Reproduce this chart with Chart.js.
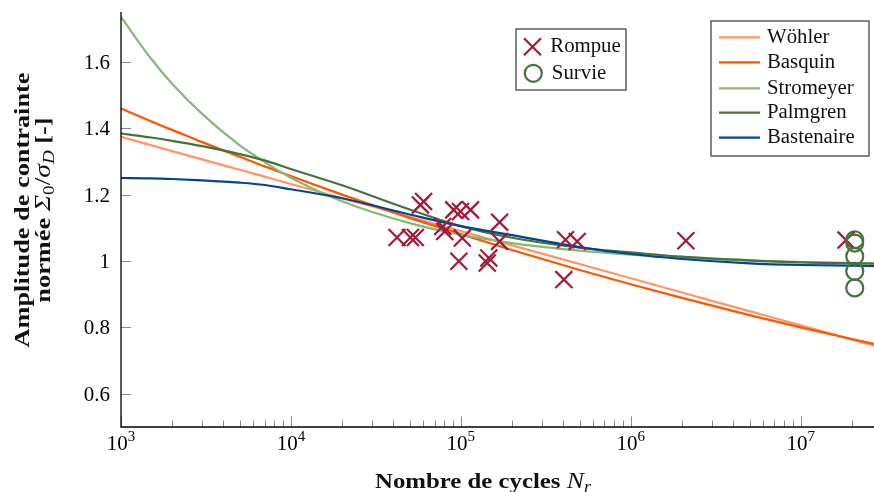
<!DOCTYPE html>
<html>
<head>
<meta charset="utf-8">
<script src="https://cdn.jsdelivr.net/npm/chart.js@4.4.1/dist/chart.umd.min.js"></script>
<style>
  html, body { margin: 0; padding: 0; background: #fff; }
  #wrap { width: 874px; height: 492px; }
</style>
</head>
<body>
<div id="wrap"><canvas id="chart" width="874" height="492"></canvas></div>
<script>
// values
const cycleGrid  = [1e3, 1.5e3, 2e3, 3e3, 5e3, 7e3, 1e4, 2e4, 5e4, 1e5, 2e5, 5e5, 1e6, 2e6, 5e6, 1e7, 2.7e7];
const woehler    = [1.374, 1.349, 1.331, 1.306, 1.275, 1.254, 1.232, 1.189, 1.133, 1.090, 1.047, 0.991, 0.948, 0.905, 0.849, 0.806, 0.745];
const basquin    = [1.459, 1.421, 1.395, 1.358, 1.314, 1.285, 1.256, 1.200, 1.130, 1.081, 1.033, 0.973, 0.930, 0.889, 0.837, 0.800, 0.750];
const stromeyer  = [1.735, 1.610, 1.534, 1.443, 1.348, 1.298, 1.251, 1.180, 1.114, 1.079, 1.054, 1.031, 1.019, 1.010, 1.001, 0.997, 0.993];
const palmgren   = [1.384, 1.372, 1.362, 1.346, 1.322, 1.303, 1.277, 1.228, 1.155, 1.105, 1.070, 1.040, 1.026, 1.013, 1.002, 0.996, 0.992];
const bastenaire = [1.250, 1.249, 1.247, 1.243, 1.236, 1.229, 1.216, 1.189, 1.140, 1.105, 1.078, 1.042, 1.021, 1.006, 0.993, 0.988, 0.985];

const rompueN   = [4.21e4, 5.05e4, 5.40e4, 5.78e4, 6.04e4, 7.82e4, 8.04e4, 9.08e4, 9.95e4, 1.14e5, 1.02e5,
                   9.73e4, 1.46e5, 1.43e5, 1.69e5, 1.69e5, 4.13e5, 4.84e5, 4.04e5, 2.11e6, 1.85e7];
const rompueAmp = [1.071, 1.071, 1.071, 1.169, 1.179, 1.104, 1.089, 1.154, 1.149, 1.154, 1.069,
                   0.999, 1.009, 0.994, 1.117, 1.059, 1.064, 1.059, 0.944, 1.061, 1.063];
const survieN   = [2.08e7, 2.08e7, 2.08e7, 2.08e7, 2.08e7];
const survieAmp = [1.064, 1.054, 1.014, 0.969, 0.919];

const yTickValues = [0.6, 0.8, 1, 1.2, 1.4, 1.6];
const yTickLabels = ['0.6', '0.8', '1', '1.2', '1.4', '1.6'];
const xDecades    = [3, 4, 5, 6, 7];

const colors = {
    woehler: 'rgb(255,150,100)',
    basquin: 'rgb(255,85,0)',
    stromeyer: 'rgb(134,184,118)',
    palmgren: 'rgb(72,112,60)',
    bastenaire: 'rgb(0,68,150)',
    rompue: 'rgb(163,25,55)',
    survie: 'rgb(72,112,60)'
};

const SERIF = '"Liberation Serif", "DejaVu Serif", serif';

const toXY = (xs, ys) => xs.map((x, i) => ({ x: x, y: ys[i] }));

function curve(label, ys, color) {
    return {
        type: 'line',
        label: label,
        data: toXY(cycleGrid, ys),
        borderColor: color,
        borderWidth: 2.2,
        pointRadius: 0,
        fill: false,
        cubicInterpolationMode: 'monotone'
    };
}

// text made of pieces with their own font / vertical shift, optionally stretched in x
function richWidth(ctx, segs) {
    let w = 0;
    segs.forEach(s => { ctx.font = s.font; w += ctx.measureText(s.t).width; });
    return w;
}
function drawRich(ctx, segs, cx, baseline, stretch) {
    const w = richWidth(ctx, segs);
    ctx.save();
    ctx.translate(cx - w * stretch / 2, baseline);
    ctx.scale(stretch, 1);
    let pos = 0;
    segs.forEach(s => {
        ctx.font = s.font;
        ctx.fillText(s.t, pos, s.dy || 0);
        pos += ctx.measureText(s.t).width;
    });
    ctx.restore();
}

const pgfLook = {
    id: 'pgfLook',
    afterDraw(chart) {
        const ctx = chart.ctx;
        const xs = chart.scales.x, ys = chart.scales.y;
        const area = chart.chartArea;
        ctx.save();
        ctx.fillStyle = '#000';
        ctx.textBaseline = 'alphabetic';
        ctx.textAlign = 'left';

        // ticks (inward)
        ctx.strokeStyle = '#8a8a8a';
        ctx.lineWidth = 1;
        ctx.beginPath();
        yTickValues.forEach(v => {
            const py = Math.round(ys.getPixelForValue(v)) + 0.5;
            ctx.moveTo(area.left, py);
            ctx.lineTo(area.left + 10, py);
        });
        xDecades.forEach(k => {
            for (let m = 1; m <= 9; m++) {
                const v = m * Math.pow(10, k);
                if (v > xs.max) break;
                const px = Math.round(xs.getPixelForValue(v)) + 0.5;
                ctx.moveTo(px, area.bottom);
                ctx.lineTo(px, area.bottom - (m === 1 ? 10.5 : 6.5));
            }
        });
        ctx.stroke();

        // axis lines
        ctx.strokeStyle = '#000';
        ctx.lineWidth = 1.3;
        ctx.beginPath();
        ctx.moveTo(area.left, area.top);
        ctx.lineTo(area.left, area.bottom);
        ctx.lineTo(area.right, area.bottom);
        ctx.stroke();

        // y tick labels
        ctx.font = '21px ' + SERIF;
        ctx.textAlign = 'right';
        yTickValues.forEach((v, i) => {
            ctx.fillText(yTickLabels[i], 110, ys.getPixelForValue(v) + 7);
        });

        // x tick labels 10^k
        ctx.textAlign = 'left';
        xDecades.forEach(k => {
            const px = xs.getPixelForValue(Math.pow(10, k));
            drawRich(ctx, [
                { t: '10', font: '21px ' + SERIF },
                { t: String(k), font: '15px ' + SERIF, dy: -9 }
            ], px, 449.5, 1);
        });

        // axis titles
        const bold = 'bold 22px ' + SERIF;
        const ital = 'italic 23px ' + SERIF;
        const sub = 'italic 16px ' + SERIF;
        const subUp = '16px ' + SERIF;
        const xTitle = [
            { t: 'Nombre de cycles ', font: bold },
            { t: 'N', font: ital },
            { t: 'r', font: sub, dy: 4 }
        ];
        ctx.fillStyle = '#111';
        drawRich(ctx, xTitle, 483, 488, 216 / richWidth(ctx, xTitle));

        const yLine1 = [{ t: 'Amplitude de contrainte', font: bold }];
        const yLine2 = [
            { t: 'normée ', font: bold },
            { t: 'Σ', font: ital },
            { t: '0', font: subUp, dy: 4 },
            { t: '/', font: '23px ' + SERIF },
            { t: 'σ', font: ital },
            { t: 'D', font: sub, dy: 4 },
            { t: ' [-]', font: bold }
        ];
        const yStretch = 275 / richWidth(ctx, yLine1);
        ctx.save();
        ctx.translate(0, 210);
        ctx.rotate(-Math.PI / 2);
        drawRich(ctx, yLine1, 0, 29, yStretch);
        drawRich(ctx, yLine2, 0, 50, yStretch);
        ctx.restore();

        // legends
        const legFont = '20px ' + SERIF;
        ctx.fillStyle = '#fff';
        ctx.strokeStyle = '#444';
        ctx.lineWidth = 1.3;
        ctx.fillRect(516, 29, 110, 61);
        ctx.strokeRect(516, 29, 110, 61);
        ctx.fillRect(711, 21, 158, 135);
        ctx.strokeRect(711, 21, 158, 135);

        ctx.fillStyle = '#111';
        // markers
        ctx.lineWidth = 2.2;
        ctx.strokeStyle = colors.rompue;
        ctx.beginPath();
        ctx.moveTo(532.5 - 8.5, 46.7 - 8.5); ctx.lineTo(532.5 + 8.5, 46.7 + 8.5);
        ctx.moveTo(532.5 - 8.5, 46.7 + 8.5); ctx.lineTo(532.5 + 8.5, 46.7 - 8.5);
        ctx.stroke();
        ctx.strokeStyle = colors.survie;
        ctx.beginPath();
        ctx.arc(533.3, 73.3, 8.5, 0, Math.PI * 2);
        ctx.stroke();
        drawRich(ctx, [{ t: 'Rompue', font: legFont }], 548.5 + 37, 52.3, 1.04);
        drawRich(ctx, [{ t: 'Survie', font: legFont }], 550 + 29, 79, 1.04);

        const entries = [
            ['Wöhler', colors.woehler, 37.3],
            ['Basquin', colors.basquin, 62.3],
            ['Stromeyer', colors.stromeyer, 88.3],
            ['Palmgren', colors.palmgren, 112.7],
            ['Bastenaire', colors.bastenaire, 137.7]
        ];
        entries.forEach(([name, col, ey]) => {
            ctx.strokeStyle = col;
            ctx.lineWidth = 2.2;
            ctx.beginPath();
            ctx.moveTo(719, ey);
            ctx.lineTo(760, ey);
            ctx.stroke();
            ctx.font = legFont;
            const w = ctx.measureText(name).width * 1.04;
            drawRich(ctx, [{ t: name, font: legFont }], 767 + w / 2, ey + 5.5, 1.04);
        });
        ctx.restore();
    }
};

new Chart(document.getElementById('chart'), {
    type: 'scatter',
    data: {
        datasets: [
            {
                label: 'Survie',
                data: toXY(survieN, survieAmp),
                pointStyle: 'circle',
                pointRadius: 8.5,
                borderColor: colors.survie,
                backgroundColor: 'rgba(0,0,0,0)',
                borderWidth: 2.2
            },
            {
                label: 'Rompue',
                data: toXY(rompueN, rompueAmp),
                pointStyle: 'crossRot',
                pointRadius: 12,
                borderColor: colors.rompue,
                backgroundColor: colors.rompue,
                borderWidth: 2.2
            },
            curve('Bastenaire', bastenaire, colors.bastenaire),
            curve('Palmgren', palmgren, colors.palmgren),
            curve('Stromeyer', stromeyer, colors.stromeyer),
            curve('Basquin', basquin, colors.basquin),
            curve('Wöhler', woehler, colors.woehler)
        ]
    },
    options: {
        responsive: false,
        animation: false,
        devicePixelRatio: 1,
        layout: { autoPadding: false, padding: { top: 12, right: 0, bottom: 0, left: 0 } },
        scales: {
            x: {
                type: 'logarithmic',
                min: 1000,
                max: 2.7e7,
                ticks: { display: false },
                grid: { display: false },
                border: { display: false },
                afterFit: s => { s.height = 65; }
            },
            y: {
                type: 'linear',
                min: 0.5,
                max: 1.75,
                ticks: { display: false },
                grid: { display: false },
                border: { display: false },
                afterFit: s => { s.width = 121; }
            }
        },
        plugins: {
            legend: { display: false },
            tooltip: { enabled: false }
        }
    },
    plugins: [pgfLook]
});
</script>
</body>
</html>
